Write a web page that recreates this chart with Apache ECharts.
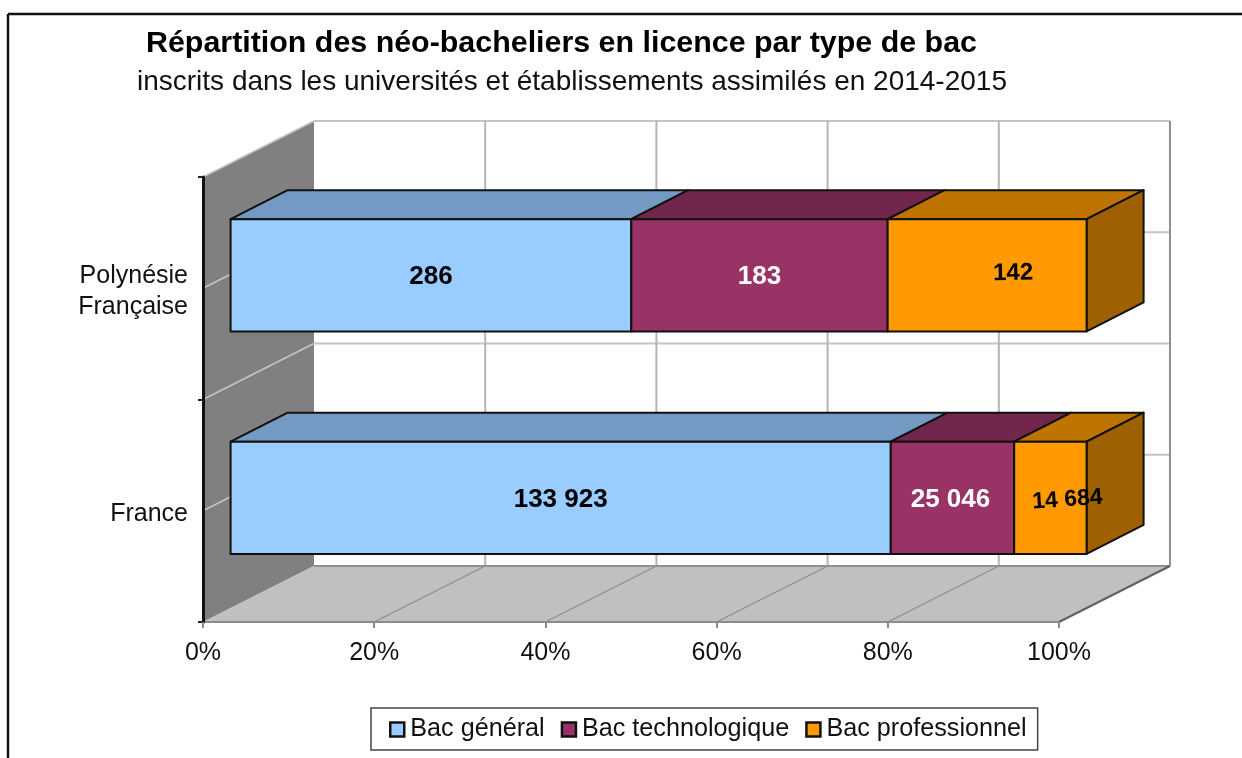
<!DOCTYPE html>
<html><head><meta charset="utf-8">
<style>html,body{margin:0;padding:0;background:#fff}#c{width:1242px;height:758px}</style>
<script src="https://cdn.jsdelivr.net/npm/echarts@6/dist/echarts.min.js"></script>
</head><body><div id="c"></div>
<script>
const categories = ['France', 'Polynésie\nFrançaise'];
const seriesNames = ['Bac général', 'Bac technologique', 'Bac professionnel'];
const bacGeneral = [133923, 286];
const bacTechnologique = [25046, 183];
const bacProfessionnel = [14684, 142];
const xTicks = [0, 20, 40, 60, 80, 100];
const titleText = 'Répartition des néo-bacheliers en licence par type de bac';
const subtitleText = 'inscrits dans les universités et établissements assimilés en 2014-2015';

const FONT = '"Liberation Sans", Arial, sans-serif';
const DX = 111, DY = -56;           // depth of the 3D box
const BAR_X = 27.6, BAR_Y = -13;    // bar offset inside the box
const BAR_DX = 57, BAR_DY = -29;    // bar depth
const values = [bacGeneral, bacTechnologique, bacProfessionnel];
const faces = [
  { front: '#99CCFF', top: '#739AC2', side: '#5C7A99', text: '#000' },
  { front: '#993366', top: '#73264D', side: '#5C1F3D', text: '#fff' },
  { front: '#FF9900', top: '#BF7300', side: '#9E6000', text: '#000' }
];
// manual placement of the labels, as in the original chart
const labelNudge = {
  '2-1': { x: 26, y: -4, r: 0.02, f: 24 },
  '2-0': { x: 17, y: 0, r: 0.07, f: 23 },
  '1-0': { x: -2, y: 0, r: 0, f: 26 }
};

function fmt(n) { return String(n).replace(/\B(?=(\d{3})+$)/g, ' '); }

function stackRows(si) {
  return categories.map((c, ci) => {
    const total = values.reduce((s, a) => s + a[ci], 0);
    let before = 0;
    for (let k = 0; k < si; k++) before += values[k][ci];
    return [ci, before / total * 100, (before + values[si][ci]) / total * 100, values[si][ci]];
  });
}

function poly(points, fill, stroke, lw) {
  return { type: 'polygon', shape: { points }, style: { fill, stroke, lineWidth: lw, lineJoin: 'round' } };
}
function line(a, b, stroke, lw) {
  return { type: 'line', shape: { x1: a[0], y1: a[1], x2: b[0], y2: b[1] }, style: { stroke, lineWidth: lw } };
}

function renderBox(params, api) {
  const o = api.coord([0, 0]);
  const band = api.size([0, 1])[1];
  const x0 = api.coord([0, 0])[0], x1 = api.coord([100, 0])[0];
  const yb = o[1] + band / 2, yt = yb - band * categories.length;
  const kids = [];
  // back wall, left wall, floor
  kids.push(poly([[x0 + DX, yt + DY], [x1 + DX, yt + DY], [x1 + DX, yb + DY], [x0 + DX, yb + DY]], '#fff', 'none', 0));
  kids.push(poly([[x0, yt], [x0 + DX, yt + DY], [x0 + DX, yb + DY], [x0, yb]], '#808080', 'none', 0));
  kids.push(poly([[x0, yb], [x0 + DX, yb + DY], [x1 + DX, yb + DY], [x1, yb]], '#C0C0C0', 'none', 0));
  // horizontal grid, on both walls
  for (let i = 0; i <= categories.length * 2; i++) {
    const y = yb - i * band / 2;
    if (i > 0) kids.push(line([x0, y], [x0 + DX, y + DY], '#C4C4C4', 1.6));
    kids.push(line([x0 + DX, y + DY], [x1 + DX, y + DY], '#C4C4C4', 2));
  }
  // vertical grid, back wall and floor
  xTicks.forEach(t => {
    const x = api.coord([t, 0])[0];
    if (t > 0) kids.push(line([x + DX, yt + DY], [x + DX, yb + DY], t === 100 ? '#909090' : '#B4B4B4', 2));
    if (t > 0 && t < 100) kids.push(line([x, yb], [x + DX, yb + DY], '#8C8C8C', 1.2));
  });
  kids.push(line([x0 + DX, yb + DY], [x1 + DX, yb + DY], '#909090', 2));
  kids.push(line([x0, yb], [x1, yb], '#8C8C8C', 2));
  kids.push(line([x1, yb], [x1 + DX, yb + DY], '#606060', 2));
  return { type: 'group', children: kids };
}

function renderBar(si) {
  return function (params, api) {
    const ci = api.value(0);
    const band = api.size([0, 1])[1];
    const a = api.coord([api.value(1), ci]);
    const b = api.coord([api.value(2), ci]);
    const h = band / 2 + 1;
    const xa = a[0] + BAR_X, xb = b[0] + BAR_X;
    const yT = a[1] - h / 2 + BAR_Y, yB = a[1] + h / 2 + BAR_Y;
    const f = faces[si], kids = [];
    kids.push(poly([[xa, yT], [xa + BAR_DX, yT + BAR_DY], [xb + BAR_DX, yT + BAR_DY], [xb, yT]], f.top, '#111', 2));
    if (si === values.length - 1) {
      kids.push(poly([[xb, yT], [xb + BAR_DX, yT + BAR_DY], [xb + BAR_DX, yB + BAR_DY], [xb, yB]], f.side, '#111', 2));
    }
    kids.push(poly([[xa, yT], [xb, yT], [xb, yB], [xa, yB]], f.front, '#111', 2));
    const n = labelNudge[si + '-' + ci] || { x: 0, y: 0, r: 0, f: 26 };
    kids.push({
      type: 'text', z2: 10,
      x: (xa + xb) / 2 + n.x, y: (yT + yB) / 2 + n.y + 2, rotation: n.r,
      style: { text: fmt(api.value(3)), fill: f.text, font: 'bold ' + n.f + 'px ' + FONT, align: 'center', verticalAlign: 'middle' }
    });
    return { type: 'group', children: kids };
  };
}

const series = [{
  type: 'custom', name: 'box', silent: true, clip: false, z: 1,
  renderItem: renderBox, data: [[0, 0]], encode: { x: 0, y: 1 }
}].concat(seriesNames.map((name, si) => ({
  type: 'custom', name, clip: false, z: 3 + si,
  renderItem: renderBar(si),
  itemStyle: { color: faces[si].front, borderColor: '#222', borderWidth: 2 },
  data: stackRows(si),
  encode: { x: [1, 2], y: 0 }
})));

const chart = echarts.init(document.getElementById('c'), null, { renderer: 'canvas' });
chart.setOption({
  animation: false,
  backgroundColor: '#fff',
  title: [
    { text: titleText, left: 146, top: 29, padding: 0, textStyle: { fontFamily: FONT, fontWeight: 'bold', fontSize: 30.4, color: '#000' } },
    { text: subtitleText, left: 137, top: 68, padding: 0, textStyle: { fontFamily: FONT, fontWeight: 'normal', fontSize: 28, color: '#111' } }
  ],
  legend: {
    data: seriesNames, left: 371, top: 708,
    orient: 'horizontal', padding: [9, 11, 8, 18], itemGap: 16, itemWidth: 14, itemHeight: 14, icon: 'rect',
    itemStyle: { borderColor: '#111', borderWidth: 2.5 },
    backgroundColor: '#fff', borderColor: '#444', borderWidth: 1.5,
    selectedMode: false,
    textStyle: { fontFamily: FONT, fontSize: 25.2, color: '#111', padding: [0, 0, 0, 1] }
  },
  grid: { left: 203, right: 183, top: 177, bottom: 136, containLabel: false },
  xAxis: {
    type: 'value', min: 0, max: 100, interval: 20, z: 5,
    axisLine: { show: false },
    axisTick: { show: true, length: 6, lineStyle: { color: '#8C8C8C', width: 2 } },
    axisLabel: { formatter: '{value}%', margin: 19, fontFamily: FONT, fontSize: 25, color: '#111' },
    splitLine: { show: false }
  },
  yAxis: {
    type: 'category', data: categories, z: 5,
    axisLine: { show: true, lineStyle: { color: '#111', width: 3 } },
    axisTick: { show: true, length: 5, lineStyle: { color: '#222', width: 2 } },
    axisLabel: {
      margin: 15, align: 'right',
      formatter: v => v.split('\n').map(l => '{a|' + l + '}').join('\n'),
      rich: { a: { fontFamily: FONT, fontSize: 25, lineHeight: 31, padding: [6, 0, 0, 0], color: '#111', align: 'right' } }
    },
    splitLine: { show: false }
  },
  graphic: [
    { type: 'line', shape: { x1: 8, y1: 14, x2: 1242, y2: 14 }, style: { stroke: '#111', lineWidth: 2.5 }, silent: true },
    { type: 'line', shape: { x1: 8, y1: 14, x2: 8, y2: 758 }, style: { stroke: '#111', lineWidth: 2.5 }, silent: true }
  ],
  series
});
</script></body></html>
